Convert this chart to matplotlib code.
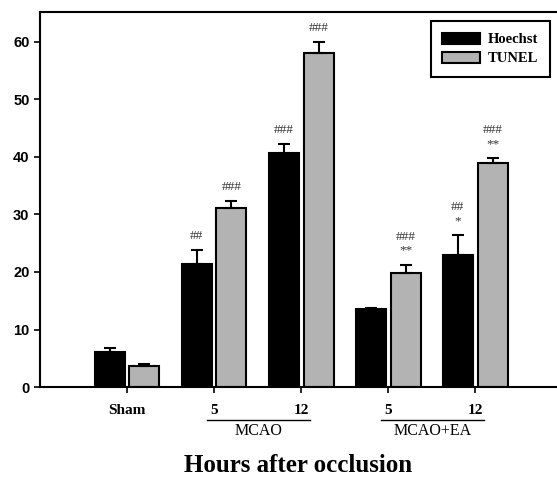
import numpy as np
import matplotlib
matplotlib.use("Agg")
import matplotlib.pyplot as plt
from matplotlib.patches import Patch

# ---------------------------------
# Data
# ---------------------------------
groups = ["Sham", "5", "12", "5", "12"]
hoechst = [6.1, 21.4, 40.6, 13.6, 23.0]
hoechst_err = [0.6, 2.4, 1.6, 0.2, 3.4]
tunel = [3.6, 31.1, 58.0, 19.9, 38.9]
tunel_err = [0.4, 1.2, 2.0, 1.4, 0.9]

hoechst_marks = ["", "##", "###", "", "##\n*"]
tunel_marks = ["", "###", "###", "###\n**", "###\n**"]

serif = ["Liberation Serif", "DejaVu Serif"]
sans = ["Liberation Sans", "DejaVu Sans"]

x = np.arange(len(groups))
w = 0.345
off = 0.2

fig = plt.figure(figsize=(5.57, 4.79), dpi=100)
ax = fig.add_axes([0.0718, 0.192, 0.9282, 0.783])

ax.bar(x - off, hoechst, w, color="black", edgecolor="black", linewidth=1.5, zorder=2)
ax.bar(x + off, tunel, w, color="#b3b3b3", edgecolor="black", linewidth=1.5, zorder=2)
ax.errorbar(x - off, hoechst, yerr=[np.zeros(5), hoechst_err], fmt="none",
            ecolor="black", elinewidth=1.5, capsize=4, capthick=1.5, zorder=3)
ax.errorbar(x + off, tunel, yerr=[np.zeros(5), tunel_err], fmt="none",
            ecolor="black", elinewidth=1.5, capsize=4, capthick=1.5, zorder=3)

# significance marks
for i in range(len(groups)):
    if hoechst_marks[i]:
        ax.text(x[i] - off, hoechst[i] + hoechst_err[i] + 1.4, hoechst_marks[i],
                ha="center", va="bottom", fontsize=9.5, family=serif,
                linespacing=1.2, color="#333333")
    if tunel_marks[i]:
        ax.text(x[i] + off, tunel[i] + tunel_err[i] + 1.4, tunel_marks[i],
                ha="center", va="bottom", fontsize=9.5, family=serif,
                linespacing=1.2, color="#333333")

ax.set_xlim(-1, 4.94)
ax.set_ylim(0, 65.2)
ax.set_yticks([0, 10, 20, 30, 40, 50, 60])
ax.set_xticks(x)
ax.set_xticklabels(groups, family=serif, fontweight="bold", fontsize=11)
for lab in ax.get_yticklabels():
    lab.set_fontweight("bold")
    lab.set_fontsize(10.5)
    lab.set_family(sans)
ax.tick_params(axis="both", direction="out", length=4, width=1.2)
ax.tick_params(axis="x", pad=8)
ax.spines["right"].set_visible(False)
for s in ["left", "bottom", "top"]:
    ax.spines[s].set_linewidth(1.5)

# group labels under the ticks
for x0, x1, name in [(0.92, 2.1, "MCAO"), (2.92, 4.1, "MCAO+EA")]:
    ax.plot([x0, x1], [-5.8, -5.8], color="black", lw=1, clip_on=False)
    ax.text((x0 + x1) / 2, -6.2, name, ha="center", va="top", fontsize=11.5,
            family=serif)

ax.set_xlabel("Hours after occlusion", family=serif, fontweight="bold",
              fontsize=18, labelpad=27)

handles = [Patch(facecolor="black", edgecolor="black", linewidth=1.5),
           Patch(facecolor="#b3b3b3", edgecolor="black", linewidth=1.5)]
leg = ax.legend(handles, ["Hoechst", "TUNEL"], loc="upper right",
                bbox_to_anchor=(1.0, 0.995), fancybox=False, framealpha=1,
                edgecolor="black", prop={"family": serif, "weight": "bold", "size": 10.5},
                handlelength=2.6, handleheight=0.8, handletextpad=0.5,
                borderpad=0.8, labelspacing=0.35)
leg.get_frame().set_linewidth(1.5)

fig.savefig("out.png", dpi=100)
